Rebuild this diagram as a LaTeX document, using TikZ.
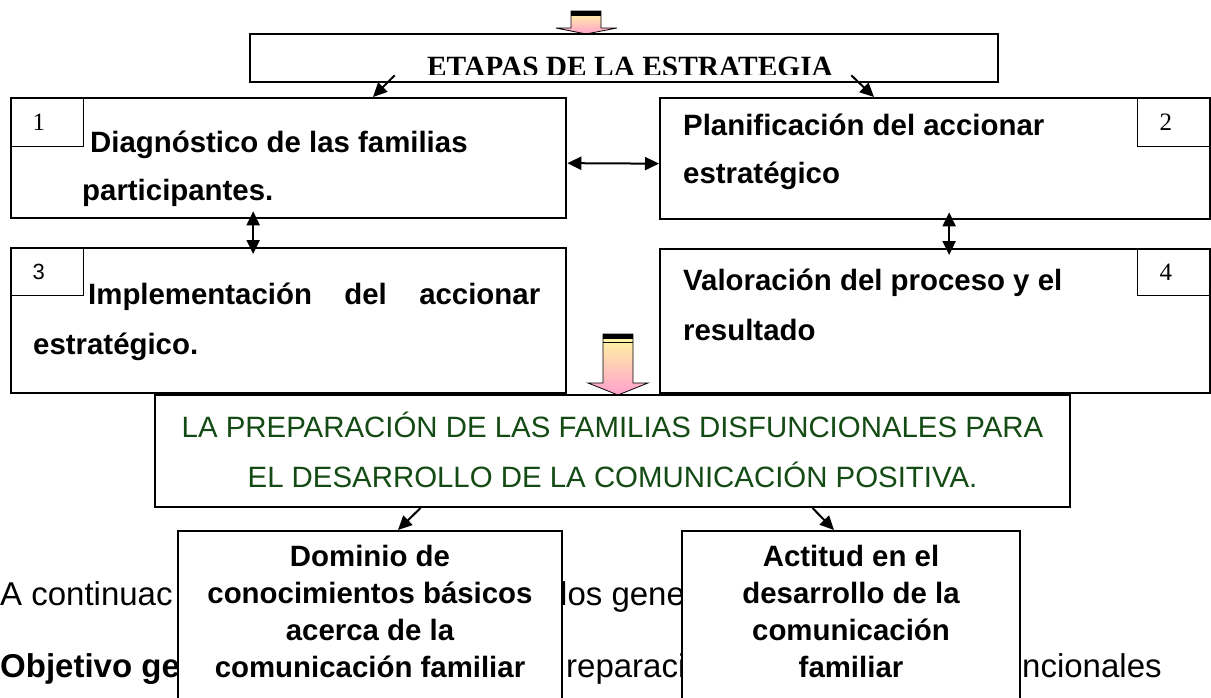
\documentclass[tikz,border=0pt]{standalone}
\usepackage{fontspec}
\setmainfont{Liberation Sans}
\newfontfamily\timesfont{Liberation Serif}
\usetikzlibrary{arrows.meta}
\definecolor{darkgreen}{RGB}{20,75,20}
\definecolor{arrowyellow}{RGB}{255,250,160}
\definecolor{arrowpink}{RGB}{255,160,205}

\begin{document}
\begin{tikzpicture}[x=1pt, y=-1pt,
	card/.style={draw, line width=2.3pt, inner sep=0pt, anchor=north west},
	numbox/.style={draw, line width=1.3pt, anchor=north west, text width=29pt, inner xsep=22pt, inner ysep=0pt, minimum height=49pt, align=left, font=\timesfont\fontsize{25}{27}\selectfont},
	etext/.style={anchor=base west, inner sep=0pt, font=\bfseries\fontsize{29.4}{32}\selectfont},
	gtext/.style={anchor=base, inner sep=0pt, text=darkgreen, font=\fontsize{29.4}{32}\selectfont},
	btext/.style={anchor=base, inner sep=0pt, font=\bfseries\fontsize{29.4}{32}\selectfont},
	partext/.style={anchor=base west, inner sep=0pt, font=\fontsize{33}{35}\selectfont},
	bbox/.style={draw, fill=white, line width=2pt, anchor=north, minimum height=180pt},
	blockarrow/.style={top color=arrowyellow, bottom color=arrowpink, draw=black, line width=0.8pt},
	arr/.style={line width=2pt, -{Triangle[length=14pt,width=13pt]}},
	dbl/.style={line width=2pt, {Triangle[length=14pt,width=13pt]}-{Triangle[length=14pt,width=13pt]}}]

	\useasboundingbox (0,0) rectangle (1211,697);
	\clip (0,0) rectangle (1211,697);

	% title
	\shade[blockarrow] (571,11) -- (601,11) -- (601,28) -- (617,28) -- (586,34) -- (556,28) -- (571,28) -- cycle;
	\fill (571,11) rectangle (601,16);
	\path (624,58) node[draw, line width=2.6pt, minimum width=748pt, minimum height=48pt] (t) {};
	\begin{scope}
		\clip (250,34) rectangle (998,74);
		\path (630,76.5) node[anchor=base, inner sep=0pt, font=\timesfont\bfseries\fontsize{29.4}{32}\selectfont] (tt) {ETAPAS DE LA ESTRATEGIA};
	\end{scope}

	% etapas
	\path (10,97) node[card, minimum width=555pt, minimum height=120pt] (e1) {}
		(659,97) node[card, minimum width=550pt, minimum height=121pt] (e2) {}
		(10,247) node[card, minimum width=555pt, minimum height=145pt] (e3) {}
		(659,248) node[card, minimum width=550pt, minimum height=144pt] (e4) {};

	\path (e1.north west) node[numbox] (n1) {1}
		(e2.north east) node[numbox, anchor=north east] (n2) {2}
		(e3.north west) node[numbox, minimum height=48pt, font=\fontsize{22}{24}\selectfont] (n3) {3}
		(e4.north east) node[numbox, anchor=north east, minimum height=47pt] (n4) {4};

	\path (90,152) node[etext] (l1a) {Diagnóstico de las familias}
		(82,200) node[etext] (l1b) {participantes.}
		(683,135) node[etext] (l2a) {Planificación del accionar}
		(683,183) node[etext] (l2b) {estratégico}
		(88,304) node[etext] (l3a) {\makebox[452pt][s]{Implementación del accionar}}
		(33,354) node[etext] (l3b) {estratégico.}
		(683,290) node[etext] (l4a) {Valoración del proceso y el}
		(683,340) node[etext] (l4b) {resultado};

	\draw[arr] ([xshift=146pt,yshift=8pt]t.south west) -- ([xshift=363pt]e1.north west);
	\draw[arr] ([xshift=-148pt,yshift=8pt]t.south east) -- ([xshift=215pt]e2.north west);
	\draw[dbl] ([yshift=-5pt]e1.east) -- ([yshift=-5pt]e2.west);
	\draw[dbl, shorten <=-8pt, shorten >=-7pt] ([xshift=-35.5pt]e1.south) -- ([xshift=-35.5pt]e3.north);
	\draw[dbl, shorten <=-8pt, shorten >=-7pt] ([xshift=14pt]e2.south) -- ([xshift=14pt]e4.north);

	% preparacion
	\shade[blockarrow] (603,334) -- (633,334) -- (633,383) -- (648,383) -- (618,395) -- (588,383) -- (603,383) -- cycle;
	\fill (603,334) rectangle (633,338.5);
	\draw[line width=0.8pt] (603,342) -- (633,342);
	\path (612.5,451) node[draw, fill=white, line width=2pt, minimum width=915pt, minimum height=112pt] (p) {};
	\path (612.5,437) node[gtext] (p1) {LA PREPARACIÓN DE LAS FAMILIAS DISFUNCIONALES PARA}
		(612.5,487) node[gtext] (p2) {EL DESARROLLO DE LA COMUNICACIÓN POSITIVA.};

	% texto de fondo
	\path (0,605) node[partext] (q1) {A continuac}
		(560,605) node[partext] (q2) {los gene}
		(0,677) node[partext, font=\bfseries\fontsize{33}{35}\selectfont] (q3) {Objetivo ge}
		(566,677) node[partext] (q4) {reparaci}
		(1022,677) node[partext] (q5) {ncionales};

	% dimensiones
	\path (370,530) node[bbox, minimum width=384pt] (b1) {}
		(851,530) node[bbox, minimum width=338pt] (b2) {};
	\foreach \txt [count=\i] in {Dominio de, conocimientos básicos, acerca de la, comunicación familiar}
		\path (370,529+37*\i) node[btext] (b1l\i) {\txt};
	\foreach \txt [count=\i] in {Actitud en el, desarrollo de la, comunicación, familiar}
		\path (851,529+37*\i) node[btext] (b2l\i) {\txt};

	\draw[arr] ([xshift=-192pt]p.south) -- ([xshift=28pt]b1.north);
	\draw[arr] ([xshift=200pt]p.south) -- ([xshift=-17pt]b2.north);
\end{tikzpicture}
\end{document}
